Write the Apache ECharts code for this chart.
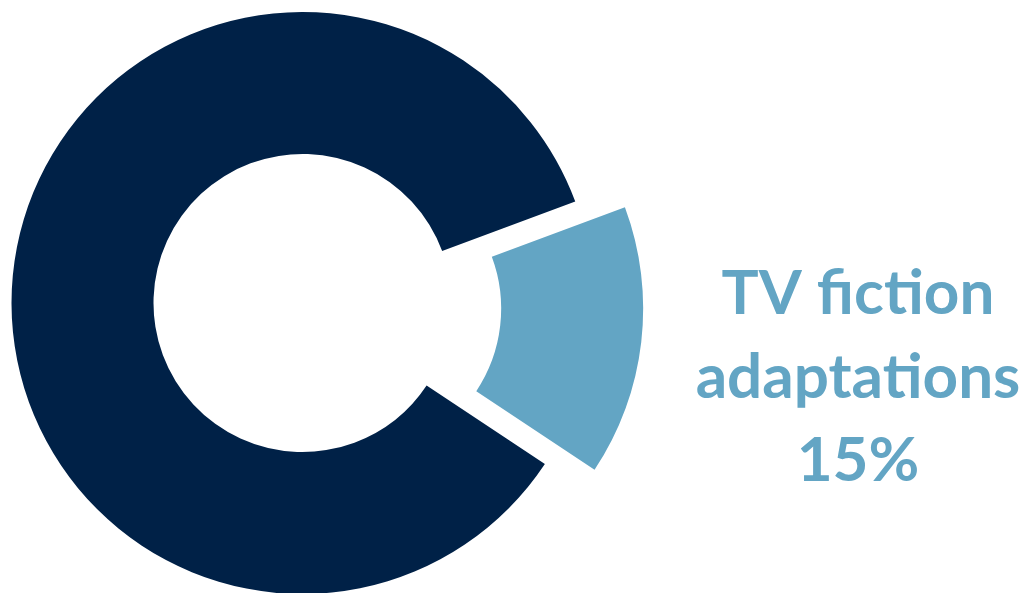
<!DOCTYPE html>
<html><head><meta charset="utf-8">
<script src="https://cdn.jsdelivr.net/npm/echarts@6/dist/echarts.min.js"></script>
<style>html,body{margin:0;padding:0;background:#fff}#c{width:1025px;height:593px}</style>
</head><body><div id="c"></div>
<script>
const categories = ['TV fiction adaptations', 'Other'];
const values = [15, 85];
const labelLines = ['TV fiction', 'adaptations', '15%'];
const colors = ['#63A5C4', '#002147'];

const chart = echarts.init(document.getElementById('c'), null, {renderer: 'canvas'});
chart.setOption({
  animation: false,
  series: [{
    type: 'pie',
    center: [302.5, 303],
    radius: [149, 291],
    startAngle: 20.4,
    clockwise: true,
    selectedMode: 'single',
    selectedOffset: 50,
    label: {show: false},
    labelLine: {show: false},
    emphasis: {disabled: true},
    data: categories.map((n, i) => ({
      name: n, value: values[i], selected: i === 0,
      itemStyle: {color: colors[i]}
    }))
  }],
  graphic: labelLines.map((t, i) => ({
    type: 'text',
    x: 858,
    y: 263 + i * 83.5,
    style: {
      text: t,
      align: 'center', verticalAlign: 'top',
      font: 'bold 62px Lato', fill: '#63A5C4'
    }
  }))
});
</script></body></html>
